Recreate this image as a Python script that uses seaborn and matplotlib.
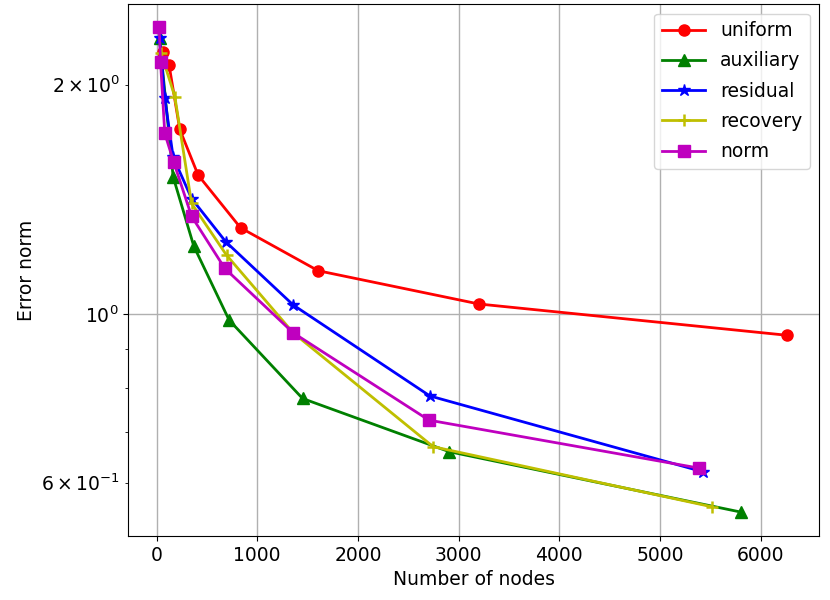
import matplotlib
matplotlib.use("Agg")
import matplotlib.pyplot as plt
import seaborn as sns
import pandas as pd

# Data
uniform_x = [65, 125, 231, 413, 834, 1605, 3201, 6262]
uniform_y = [2.21, 2.12, 1.746, 1.521, 1.297, 1.139, 1.030, 0.937]

auxiliary_x = [30, 165, 370, 721, 1450, 2906, 5802]
auxiliary_y = [2.30, 1.513, 1.227, 0.981, 0.774, 0.659, 0.549]

residual_x = [30, 82, 165, 348, 688, 1357, 2714, 5428]
residual_y = [2.30, 1.918, 1.607, 1.417, 1.243, 1.027, 0.780, 0.620]

recovery_x = [45, 182, 348, 695, 1357, 2747, 5511]
recovery_y = [2.20, 1.928, 1.396, 1.194, 0.944, 0.669, 0.558]

norm_x = [26, 40, 82, 172, 348, 678, 1357, 2704, 5388]
norm_y = [2.38, 2.141, 1.725, 1.580, 1.343, 1.147, 0.944, 0.725, 0.627]

series = [
    ("uniform", uniform_x, uniform_y, "red", "o"),
    ("auxiliary", auxiliary_x, auxiliary_y, "green", "^"),
    ("residual", residual_x, residual_y, "blue", "*"),
    ("recovery", recovery_x, recovery_y, "y", "+"),
    ("norm", norm_x, norm_y, "m", "s"),
]

FS = 13.5
plt.rcParams["font.family"] = ["DejaVu Sans"]
plt.rcParams["font.size"] = FS

fig = plt.figure(figsize=(8.3, 6.0), dpi=100)
ax = fig.add_axes([0.154, 0.107, 0.833, 0.886])

for name, xs, ys, col, mk in series:
    df = pd.DataFrame({"x": xs, "y": ys})
    sns.lineplot(data=df, x="x", y="y", ax=ax, color=col, marker=mk,
                 markersize=8 if mk != "*" else 9, linewidth=2, label=name,
                 sort=False, markeredgecolor=col,
                 markeredgewidth=1.8 if mk == "+" else 1)

ax.set_yscale("log")
ax.set_ylim(0.511, 2.55)
ax.set_xlim(-285, 6580)
ax.grid(True, which="major", color="#b0b0b0", linewidth=1)
ax.set_xlabel("Number of nodes", fontsize=FS)
ax.set_ylabel("Error norm", fontsize=FS)
ax.tick_params(labelsize=FS)
ax.legend(loc="upper right", fontsize=FS, labelspacing=0.6,
          borderaxespad=0.5, handlelength=2.3)

fig.savefig("out.png", dpi=100)
